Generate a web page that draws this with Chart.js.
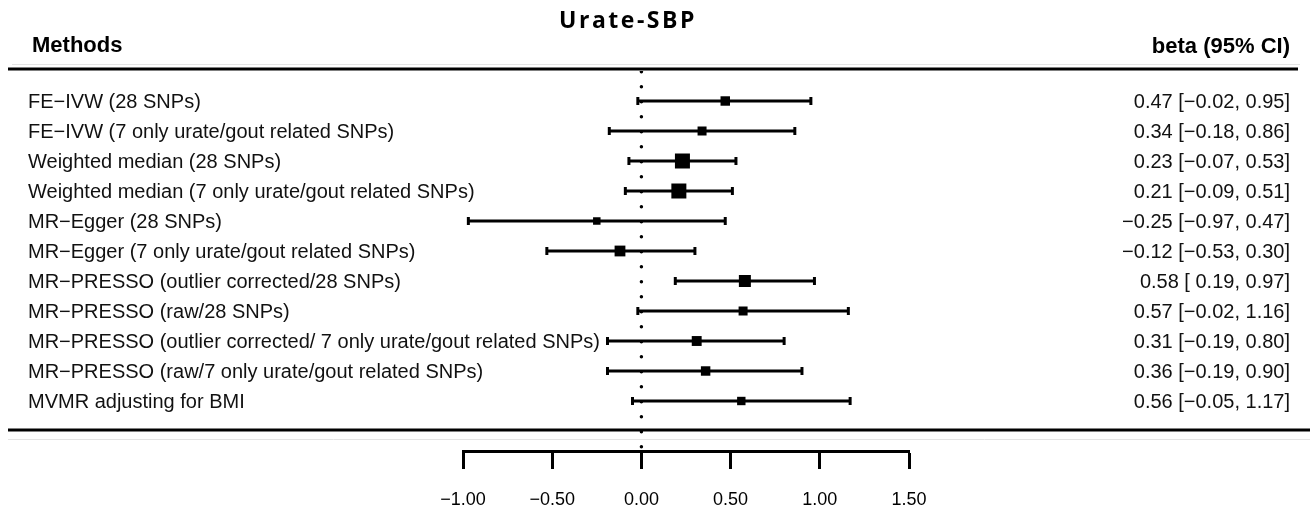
<!DOCTYPE html>
<html>
<head>
<meta charset="utf-8">
<script src="https://cdn.jsdelivr.net/npm/chart.js@4"></script>
<style>
  html, body { margin: 0; padding: 0; background: #fff; }
  #wrap { width: 1311px; height: 522px; }
</style>
</head>
<body>
<div id="wrap"><canvas id="forest" width="1311" height="522"></canvas></div>
<script>
const methods = [
  "FE\u2212IVW (28 SNPs)",
  "FE\u2212IVW (7 only urate/gout related SNPs)",
  "Weighted median (28 SNPs)",
  "Weighted median (7 only urate/gout related SNPs)",
  "MR\u2212Egger (28 SNPs)",
  "MR\u2212Egger (7 only urate/gout related SNPs)",
  "MR\u2212PRESSO (outlier corrected/28 SNPs)",
  "MR\u2212PRESSO (raw/28 SNPs)",
  "MR\u2212PRESSO (outlier corrected/ 7 only urate/gout related SNPs)",
  "MR\u2212PRESSO (raw/7 only urate/gout related SNPs)",
  "MVMR adjusting for BMI"
];
const beta  = [0.47, 0.34, 0.23, 0.21, -0.25, -0.12, 0.58, 0.57, 0.31, 0.36, 0.56];
const lower = [-0.02, -0.18, -0.07, -0.09, -0.97, -0.53, 0.19, -0.02, -0.19, -0.19, -0.05];
const upper = [0.95, 0.86, 0.53, 0.51, 0.47, 0.30, 0.97, 1.16, 0.80, 0.90, 1.17];
// relative box weights (largest = 1)
const weights = [0.63, 0.6, 1.0, 1.0, 0.5, 0.72, 0.8, 0.6, 0.66, 0.63, 0.56];
const xTicks = [-1, -0.5, 0, 0.5, 1, 1.5];

const MINUS = "\u2212";
const num = v => (v < 0 ? MINUS : "") + Math.abs(v).toFixed(2);
const ciText = i => num(beta[i]) + " [" + (lower[i] < 0 ? "" : " ") + num(lower[i]) + ", " + num(upper[i]) + "]";

const rows = methods.map((m, i) => i + 1);
const nRows = methods.length;

// CI segments, separated by gaps
const ciSegs = [];
rows.forEach((r, i) => {
  ciSegs.push({ x: lower[i], y: r }, { x: upper[i], y: r }, { x: null, y: null });
});
const whiskers = [];
rows.forEach((r, i) => { whiskers.push({ x: lower[i], y: r }, { x: upper[i], y: r }); });

const SANS = "'Liberation Sans', Arial, Helvetica, sans-serif";
const MAX_BOX = 15;

const textPlugin = {
  id: "forestText",
  afterDraw(chart) {
    const ctx = chart.ctx;
    const ys = chart.scales.y;
    ctx.save();
    ctx.fillStyle = "#000";

    // title
    ctx.font = "bold 23px 'Open Sans', sans-serif";
    ctx.letterSpacing = "2.5px";
    ctx.textAlign = "center";
    ctx.textBaseline = "alphabetic";
    ctx.fillText("Urate-SBP", 628, 28);
    ctx.letterSpacing = "0px";

    // column headers
    ctx.font = "bold 22px " + SANS;
    ctx.textBaseline = "middle";
    ctx.textAlign = "left";
    ctx.fillText("Methods", 32, 46);
    ctx.textAlign = "right";
    ctx.fillText("beta (95% CI)", 1290, 47);

    // faint rules
    ctx.strokeStyle = "#e4e4e4";
    ctx.lineWidth = 1;
    ctx.beginPath();
    ctx.moveTo(12, 64.5); ctx.lineTo(1300, 64.5);
    ctx.moveTo(8, 439.5); ctx.lineTo(1310, 439.5);
    ctx.stroke();

    // heavy rules
    ctx.strokeStyle = "#000";
    ctx.lineWidth = 3;
    ctx.beginPath();
    ctx.moveTo(8, 69); ctx.lineTo(1298, 69);
    const yb = ys.getPixelForValue(nRows + 0.97);
    ctx.moveTo(8, yb); ctx.lineTo(1310, yb);
    ctx.stroke();

    // row labels and estimates
    ctx.font = "20px " + SANS;
    ctx.fillStyle = "#111";
    rows.forEach((r, i) => {
      const y = ys.getPixelForValue(r) + 1;
      ctx.textAlign = "left";
      ctx.fillText(methods[i], 28, y);
      ctx.textAlign = "right";
      ctx.fillText(ciText(i), 1290, y);
    });
    ctx.restore();
  }
};

new Chart(document.getElementById("forest"), {
  type: "scatter",
  data: {
    datasets: [
      {
        type: "line",
        data: [{ x: 0, y: 0.024 }, { x: 0, y: 12.55 }],
        borderColor: "#000",
        borderWidth: 3.5,
        borderDash: [0, 15],
        borderCapStyle: "round",
        pointRadius: 0
      },
      {
        type: "line",
        data: ciSegs,
        borderColor: "#000",
        borderWidth: 3,
        spanGaps: false,
        pointRadius: 0
      },
      {
        data: whiskers,
        pointStyle: "line",
        rotation: 90,
        pointRadius: 4,
        pointBorderWidth: 3,
        borderColor: "#000",
        backgroundColor: "#000"
      },
      {
        data: rows.map((r, i) => ({ x: beta[i], y: r })),
        pointStyle: "rect",
        pointRadius: weights.map(w => w * MAX_BOX / Math.SQRT2),
        pointBorderWidth: 0,
        backgroundColor: "#000",
        borderColor: "#000"
      }
    ]
  },
  options: {
    responsive: false,
    animation: false,
    events: [],
    layout: { padding: { left: 463, right: 402, top: 71, bottom: 0 } },
    plugins: { legend: { display: false }, tooltip: { enabled: false }, title: { display: false } },
    scales: {
      x: {
        type: "linear",
        position: "bottom",
        min: -1,
        max: 1.5,
        afterBuildTicks: s => { s.ticks = xTicks.map(v => ({ value: v })); },
        afterFit: s => { s.height = 71; },
        ticks: {
          callback: v => num(v),
          color: "#000",
          padding: 20,
          maxRotation: 0,
          autoSkip: false,
          font: { family: SANS, size: 18 }
        },
        grid: {
          drawOnChartArea: false,
          drawTicks: true,
          tickLength: 18,
          tickWidth: 3,
          tickColor: "#000"
        },
        border: { display: true, width: 3, color: "#000" }
      },
      y: {
        type: "linear",
        display: false,
        reverse: true,
        min: 0,
        max: 12.6667
      }
    }
  },
  plugins: [textPlugin]
});
</script>
</body>
</html>
